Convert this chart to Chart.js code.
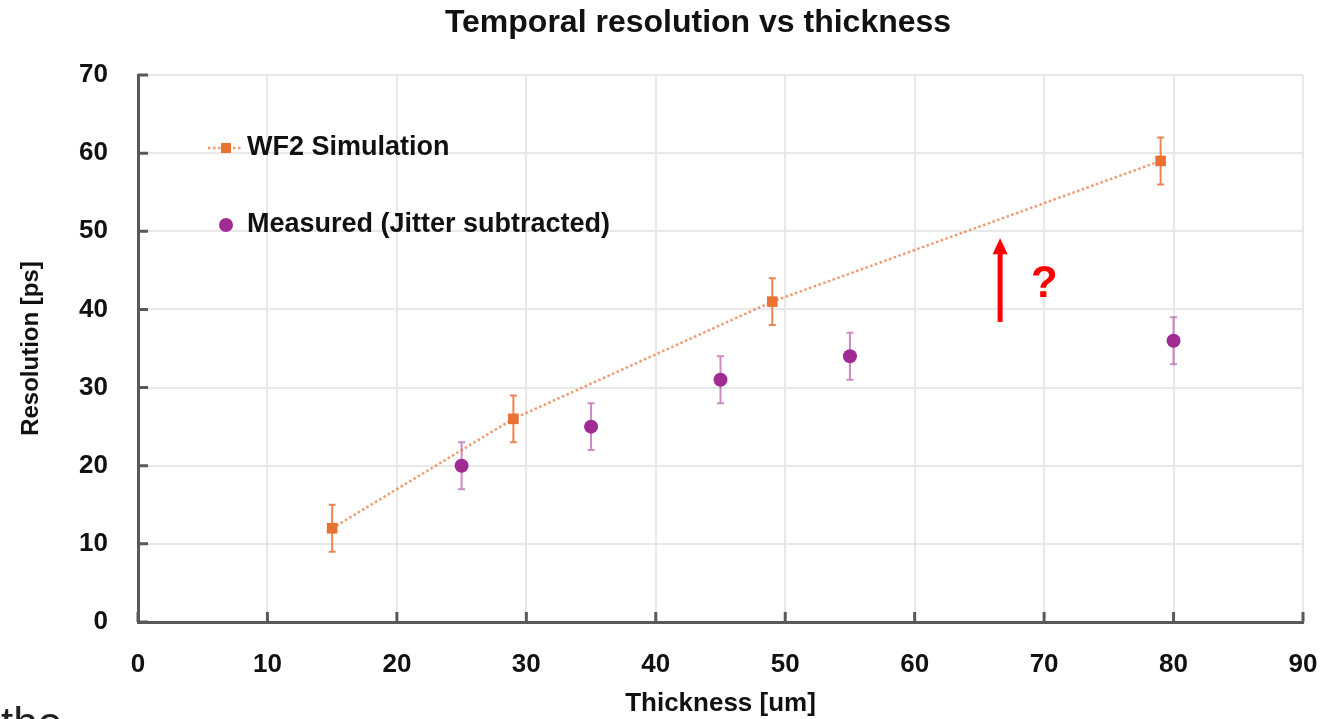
<!DOCTYPE html>
<html>
<head>
<meta charset="utf-8">
<script src="https://cdn.jsdelivr.net/npm/chart.js@4"></script>
<style>
  html, body { margin: 0; padding: 0; background: #fff; overflow: hidden; }
  #wrap { width: 1340px; height: 719px; position: relative; }
</style>
</head>
<body>
<div id="wrap"><canvas id="grafico"></canvas></div>
<script>
// dados
const simThickness = [15, 29, 49, 79];
const simResolution = [12, 26, 41, 59];
const simErr = [3, 3, 3, 3];

const measThickness = [25, 35, 45, 55, 80];
const measResolution = [20, 25, 31, 34, 36];
const measErr = [3, 3, 3, 3, 3];

const xTicks = [0, 10, 20, 30, 40, 50, 60, 70, 80, 90];
const yTicks = [0, 10, 20, 30, 40, 50, 60, 70];

// seta vermelha e "?" (coordenadas em unidades do gráfico)
const arrowX = 66.6, arrowFrom = 38.4, arrowTo = 49.1;
const questionX = 70, questionY = 43.1;

const titulo = "Temporal resolution vs thickness";
const laranja = "#E97132";
const roxo = "#A02B93";
const fonte = "'Liberation Sans', Arial, sans-serif";

function pontos(xs, ys) {
  return xs.map((x, i) => ({ x: x, y: ys[i] }));
}

const errosPlugin = {
  id: "erros",
  beforeDatasetsDraw(chart) {
    const ctx = chart.ctx;
    const xs = chart.scales.x, ys = chart.scales.y;
    const grupos = [
      { x: simThickness, y: simResolution, e: simErr, cor: "rgba(233,113,50,0.85)" },
      { x: measThickness, y: measResolution, e: measErr, cor: "rgba(160,43,147,0.55)" }
    ];
    ctx.save();
    ctx.lineWidth = 2;
    grupos.forEach(g => {
      ctx.strokeStyle = g.cor;
      g.x.forEach((xv, i) => {
        const px = xs.getPixelForValue(xv);
        const top = ys.getPixelForValue(g.y[i] + g.e[i]);
        const bot = ys.getPixelForValue(g.y[i] - g.e[i]);
        ctx.beginPath();
        ctx.moveTo(px, top); ctx.lineTo(px, bot);
        ctx.moveTo(px - 3.5, top); ctx.lineTo(px + 3.5, top);
        ctx.moveTo(px - 3.5, bot); ctx.lineTo(px + 3.5, bot);
        ctx.stroke();
      });
    });
    ctx.restore();
  },
  afterDraw(chart) {
    const ctx = chart.ctx;
    const xs = chart.scales.x, ys = chart.scales.y;
    const area = chart.chartArea;
    ctx.save();

    // título
    ctx.fillStyle = "#111";
    ctx.font = "bold 32px " + fonte;
    ctx.textAlign = "center";
    ctx.textBaseline = "middle";
    ctx.fillText(titulo, 698, 23);

    // ticks para dentro
    ctx.strokeStyle = "#595959";
    ctx.lineWidth = 3;
    ctx.beginPath();
    xTicks.forEach(v => {
      const px = xs.getPixelForValue(v);
      ctx.moveTo(px, area.bottom); ctx.lineTo(px, area.bottom - 10);
    });
    yTicks.forEach(v => {
      const py = ys.getPixelForValue(v);
      ctx.moveTo(area.left, py); ctx.lineTo(area.left + 10, py);
    });
    ctx.stroke();

    // legenda
    const lx = area.left + 88, ly1 = area.top + 73, ly2 = area.top + 150;
    ctx.strokeStyle = "rgba(233,113,50,0.7)";
    ctx.lineWidth = 2.5;
    ctx.setLineDash([2.5, 2.5]);
    ctx.beginPath();
    ctx.moveTo(lx - 18, ly1); ctx.lineTo(lx + 17, ly1);
    ctx.stroke();
    ctx.setLineDash([]);
    ctx.fillStyle = laranja;
    ctx.fillRect(lx - 5, ly1 - 5, 10, 10);
    ctx.fillStyle = roxo;
    ctx.beginPath();
    ctx.arc(lx, ly2, 7, 0, Math.PI * 2);
    ctx.fill();
    ctx.fillStyle = "#111";
    ctx.font = "bold 27px " + fonte;
    ctx.textBaseline = "middle";
    ctx.textAlign = "left";
    ctx.fillText("WF2 Simulation", lx + 21, ly1);
    ctx.fillText("Measured (Jitter subtracted)", lx + 21, ly2);

    // seta vermelha
    const ax = xs.getPixelForValue(arrowX);
    const a0 = ys.getPixelForValue(arrowFrom);
    const a1 = ys.getPixelForValue(arrowTo);
    ctx.strokeStyle = "#FF0000";
    ctx.fillStyle = "#FF0000";
    ctx.lineWidth = 5;
    ctx.beginPath();
    ctx.moveTo(ax, a0); ctx.lineTo(ax, a1 + 14);
    ctx.stroke();
    ctx.beginPath();
    ctx.moveTo(ax, a1);
    ctx.lineTo(ax - 7.5, a1 + 16);
    ctx.lineTo(ax + 7.5, a1 + 16);
    ctx.closePath();
    ctx.fill();
    ctx.font = "bold 44px " + fonte;
    ctx.textAlign = "center";
    ctx.fillText("?", xs.getPixelForValue(questionX), ys.getPixelForValue(questionY));

    // pedaço de texto cortado no canto
    ctx.fillStyle = "#222";
    ctx.font = "44px " + fonte;
    ctx.textAlign = "left";
    ctx.textBaseline = "alphabetic";
    ctx.fillText("the", 1, 738);
    ctx.restore();
  }
};

const ctx = document.getElementById("grafico").getContext("2d");
new Chart(ctx, {
  type: "scatter",
  data: {
    datasets: [
      {
        label: "WF2 Simulation",
        data: pontos(simThickness, simResolution),
        showLine: true,
        borderColor: "rgba(233,113,50,0.7)",
        borderWidth: 2.5,
        borderDash: [2.5, 2.5],
        pointStyle: "rect",
        pointRadius: 7.5,
        pointBackgroundColor: laranja,
        pointBorderColor: laranja,
        pointBorderWidth: 0
      },
      {
        label: "Measured (Jitter subtracted)",
        data: pontos(measThickness, measResolution),
        pointStyle: "circle",
        pointRadius: 7,
        pointBackgroundColor: roxo,
        pointBorderColor: roxo,
        pointBorderWidth: 0
      }
    ]
  },
  options: {
    responsive: true,
    maintainAspectRatio: false,
    animation: false,
    layout: { padding: { left: 0, right: 37, top: 75, bottom: 0 } },
    plugins: {
      legend: { display: false },
      tooltip: { enabled: false },
      title: { display: false }
    },
    scales: {
      x: {
        type: "linear",
        min: 0,
        max: 90,
        afterFit: s => { s.height = 97; s.paddingLeft = 0; s.paddingRight = 0; },
        afterBuildTicks: s => { s.ticks = xTicks.map(v => ({ value: v })); },
        ticks: {
          color: "#111",
          padding: 27,
          font: { family: fonte, size: 26, weight: "bold" }
        },
        grid: { color: "#e8e8e8", lineWidth: 2, drawTicks: false },
        border: { color: "#595959", width: 3 },
        title: {
          display: true,
          text: "Thickness [um]",
          color: "#111",
          font: { family: fonte, size: 26, weight: "bold" },
          padding: { top: 0, bottom: 0 }
        }
      },
      y: {
        type: "linear",
        min: 0,
        max: 70,
        afterFit: s => { s.width = 138; s.paddingTop = 0; s.paddingBottom = 0; },
        afterBuildTicks: s => { s.ticks = yTicks.map(v => ({ value: v })); },
        ticks: {
          color: "#111",
          padding: 30,
          font: { family: fonte, size: 26, weight: "bold" }
        },
        grid: { color: "#e8e8e8", lineWidth: 2, drawTicks: false },
        border: { color: "#595959", width: 3 },
        title: {
          display: true,
          text: "Resolution [ps]",
          color: "#111",
          font: { family: fonte, size: 24, weight: "bold" },
          padding: { top: 17, bottom: 0 }
        }
      }
    }
  },
  plugins: [errosPlugin]
});
</script>
</body>
</html>
